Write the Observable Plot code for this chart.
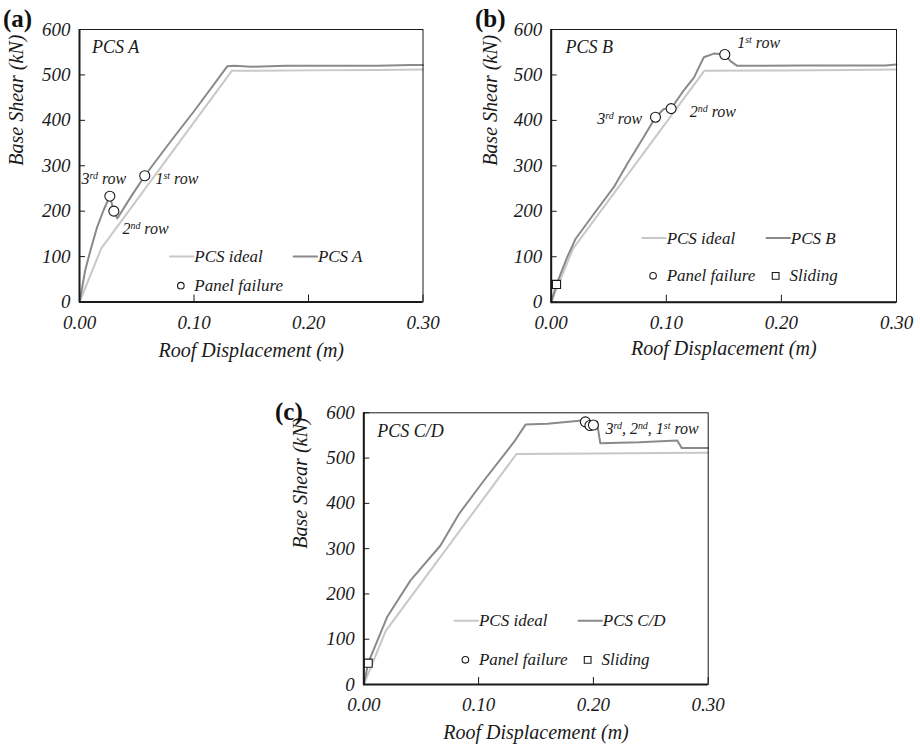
<!DOCTYPE html>
<html><head><meta charset="utf-8">
<script src="https://cdn.jsdelivr.net/npm/d3@7"></script>
<script src="https://cdn.jsdelivr.net/npm/@observablehq/plot@0.6"></script>
<style>
body{margin:0;background:#fff;}
#wrap{position:relative;width:920px;height:747px;overflow:hidden;background:#fff;}
.panel{position:absolute;}
.plabel{position:absolute;font-weight:bold;font-size:25px;font-family:"Liberation Serif";color:#111;line-height:1;}
</style></head><body><div id="wrap"></div>
<script>
// ---------- data ----------
const xTicks = [0, 0.1, 0.2, 0.3];
const yTicks = [0, 100, 200, 300, 400, 500, 600];

const idealX = [0, 0.019, 0.133, 0.20, 0.26, 0.30];
const idealV = [0, 118, 509, 510, 511, 512];

const aX = [0, 0.0024, 0.005, 0.0096, 0.0154, 0.021, 0.0256, 0.0265, 0.030, 0.033, 0.045, 0.057, 0.08, 0.10, 0.12, 0.129, 0.135, 0.15, 0.18, 0.22, 0.26, 0.29, 0.30];
const aV = [0, 33, 70, 114, 165, 202, 228, 233, 200, 184, 232, 278, 355, 420, 488, 519, 520, 518, 520, 520, 520, 522, 522];
const aFailX = [0.0265, 0.030, 0.057];
const aFailV = [233, 200, 278];

const bX = [0, 0.0046, 0.0139, 0.0211, 0.037, 0.0544, 0.066, 0.08, 0.0906, 0.0978, 0.1042, 0.114, 0.124, 0.1326, 0.1413, 0.1508, 0.156, 0.1616, 0.18, 0.22, 0.26, 0.29, 0.30];
const bV = [0, 39, 99, 139, 194, 253, 304, 362, 407, 425, 426, 462, 494, 539, 547, 545, 530, 520, 520, 521, 521, 521, 523];
const bFailX = [0.0906, 0.1042, 0.1508];
const bFailV = [407, 426, 545];
const bSlideX = [0.0046];
const bSlideV = [39];

const cX = [0, 0.0038, 0.0058, 0.0203, 0.0407, 0.0668, 0.083, 0.1045, 0.1307, 0.1409, 0.16, 0.19, 0.203, 0.206, 0.24, 0.273, 0.277, 0.30];
const cV = [0, 47, 60, 149, 230, 307, 377, 450, 535, 574, 576, 583, 581, 533, 535, 539, 522, 522];
const cFailX = [0.193, 0.197, 0.200];
const cFailV = [580, 572, 573];
const cSlideX = [0.0038];
const cSlideV = [47];

// ---------- styling / layout ----------
const IDEAL = "#c8c8c8", DARK = "#8a8a8a", INK = "#1a1a1a";
const FONT = "Liberation Serif";

const panels = [
  {id:"(a)", lab:{left:3, top:6}, box:{left:0, top:0, width:450, height:370, mL:79, mT:29, mR:27.5, mB:68.5},
   name:"PCS A", nameXY:[0.011, 562], curveName:"PCS A",
   cx:aX, cv:aV, fx:aFailX, fv:aFailV, sx:[], sv:[],
   notes:[{t:"3rd row", x:0.0017, y:272, a:"start"}, {t:"1st row", x:0.0663, y:272, a:"start"}, {t:"2nd row", x:0.0375, y:162, a:"start"}],
   leg:{lineY:100, symY:36, sliding:false}, yTitleDx:-63, xTitleDy:55},
  {id:"(b)", lab:{left:475, top:6}, box:{left:460, top:0, width:460, height:370, mL:90.7, mT:29, mR:24, mB:68.3},
   name:"PCS B", nameXY:[0.0124, 560], curveName:"PCS B",
   cx:bX, cv:bV, fx:bFailX, fv:bFailV, sx:bSlideX, sv:bSlideV,
   notes:[{t:"3rd row", x:0.079, y:404, a:"end"}, {t:"2nd row", x:0.1204, y:418, a:"start"}, {t:"1st row", x:0.1616, y:570, a:"start"}],
   leg:{lineY:141, symY:58, sliding:true}, yTitleDx:-61, xTitleDy:53},
  {id:"(c)", lab:{left:275, top:399}, box:{left:270, top:370, width:460, height:377, mL:93.3, mT:42.3, mR:22.3, mB:63},
   name:"PCS C/D", nameXY:[0.0117, 559], curveName:"PCS C/D",
   cx:cX, cv:cV, fx:cFailX, fv:cFailV, sx:cSlideX, sv:cSlideV,
   notes:[{t:"3rd, 2nd, 1st row", x:0.2105, y:565, a:"start"}],
   leg:{lineY:141, symY:54.5, sliding:true}, yTitleDx:-63, xTitleDy:54}
];

function supers(svg){
  d3.select(svg).selectAll("text").each(function(){
    const el = this;
    if (el.querySelector("tspan")) return;
    const t = el.textContent;
    const re = /(\d)(st|nd|rd)/g;
    if (!re.test(t)) return;
    re.lastIndex = 0;
    el.textContent = "";
    const add = (s, sup) => {
      if (!s) return;
      const ts = document.createElementNS("http://www.w3.org/2000/svg", "tspan");
      ts.textContent = s;
      if (sup) { ts.setAttribute("baseline-shift", "super"); ts.setAttribute("font-size", "62%"); }
      el.appendChild(ts);
    };
    let last = 0, m;
    while ((m = re.exec(t))) {
      add(t.slice(last, m.index + 1), false);
      add(m[2], true);
      last = m.index + m[0].length;
    }
    add(t.slice(last), false);
  });
}

const T = (o) => ({fontFamily: FONT, fontStyle: "italic", fill: INK, ...o});

const wrap = document.getElementById("wrap");
for (const p of panels) {
  const ideal = idealX.map((x, i) => ({x, y: idealV[i]}));
  const curve = p.cx.map((x, i) => ({x, y: p.cv[i]}));
  const fails = p.fx.map((x, i) => ({x, y: p.fv[i]}));
  const slides = p.sx.map((x, i) => ({x, y: p.sv[i]}));
  const L = p.leg;
  const marks = [
    Plot.line(ideal, {x:"x", y:"y", stroke: IDEAL, strokeWidth: 2}),
    Plot.line(curve, {x:"x", y:"y", stroke: DARK, strokeWidth: 2}),
    Plot.dot(fails, {x:"x", y:"y", r:5, fill:"white", stroke: INK, strokeWidth: 1.1}),
    Plot.dot(slides, {x:"x", y:"y", symbol:"square", r:4.6, fill:"white", stroke: INK, strokeWidth: 1.1}),
    // legend
    Plot.line([{x:0.079, y:L.lineY}, {x:0.0995, y:L.lineY}], {x:"x", y:"y", stroke: IDEAL, strokeWidth: 2}),
    Plot.line([{x:0.187, y:L.lineY}, {x:0.2075, y:L.lineY}], {x:"x", y:"y", stroke: DARK, strokeWidth: 2}),
    Plot.text(["PCS ideal"], T({text: d => d, x: 0.1003, y: L.lineY, textAnchor:"start", fontSize: 17})),
    Plot.text([p.curveName], T({text: d => d, x: 0.2082, y: L.lineY, textAnchor:"start", fontSize: 17})),
    Plot.dot([0], {x: 0.0885, y: L.symY, r:3.3, fill:"white", stroke: INK, strokeWidth: 1.1}),
    Plot.text(["Panel failure"], T({text: d => d, x: 0.1003, y: L.symY, textAnchor:"start", fontSize: 17})),
    ...(L.sliding ? [
      Plot.dot([0], {x: 0.195, y: L.symY, symbol:"square", r:3.8, fill:"white", stroke: INK, strokeWidth: 1.1}),
      Plot.text(["Sliding"], T({text: d => d, x: 0.207, y: L.symY, textAnchor:"start", fontSize: 17}))
    ] : []),
    // panel name & annotations
    Plot.text([p.name], T({text: d => d, x: p.nameXY[0], y: p.nameXY[1], textAnchor:"start", fontSize: 18})),
    Plot.text(p.notes.filter(d => d.a === "start"), T({text:"t", x:"x", y:"y", textAnchor: "start", fontSize: 16})),
    Plot.text(p.notes.filter(d => d.a === "end"), T({text:"t", x:"x", y:"y", textAnchor: "end", fontSize: 16})),
    // frame & axes
    Plot.frame({stroke: INK, strokeWidth: 1}),
    Plot.ruleX([0], {stroke: INK, strokeWidth: 2}),
    Plot.ruleY([0], {stroke: INK, strokeWidth: 2}),
    Plot.axisX(xTicks, {tickSize: -7, tickPadding: 20, tickFormat: d => d.toFixed(2), fontSize: 19, fontFamily: FONT, fontStyle: "italic", label: null, color: INK}),
    Plot.axisY(yTicks, {tickSize: -6, tickPadding: 15, tickFormat: d => String(d), fontSize: 19, fontFamily: FONT, fontStyle: "italic", label: null, color: INK}),
    Plot.text(["Roof Displacement (m)"], T({text: d => d, frameAnchor: "bottom", dy: p.xTitleDy, fontSize: 20})),
    Plot.text(["Base Shear (kN)"], T({text: d => d, frameAnchor: "left", dx: p.yTitleDx, rotate: -90, fontSize: 20}))
  ];
  const b = p.box;
  const svg = Plot.plot({
    width: b.width, height: b.height,
    marginLeft: b.mL, marginTop: b.mT, marginRight: b.mR, marginBottom: b.mB,
    x: {domain: [0, 0.3], label: null, axis: null},
    y: {domain: [0, 600], label: null, axis: null},
    style: {fontFamily: FONT, fontStyle: "italic", fontSize: "19px", color: INK, background: "transparent", overflow: "visible"},
    marks
  });
  supers(svg);
  const div = document.createElement("div");
  div.className = "panel";
  div.style.left = b.left + "px"; div.style.top = b.top + "px";
  div.style.width = b.width + "px"; div.style.height = b.height + "px";
  div.appendChild(svg);
  wrap.appendChild(div);
  const lab = document.createElement("div");
  lab.className = "plabel";
  lab.style.left = p.lab.left + "px"; lab.style.top = p.lab.top + "px";
  lab.textContent = p.id;
  wrap.appendChild(lab);
}
</script></body></html>
